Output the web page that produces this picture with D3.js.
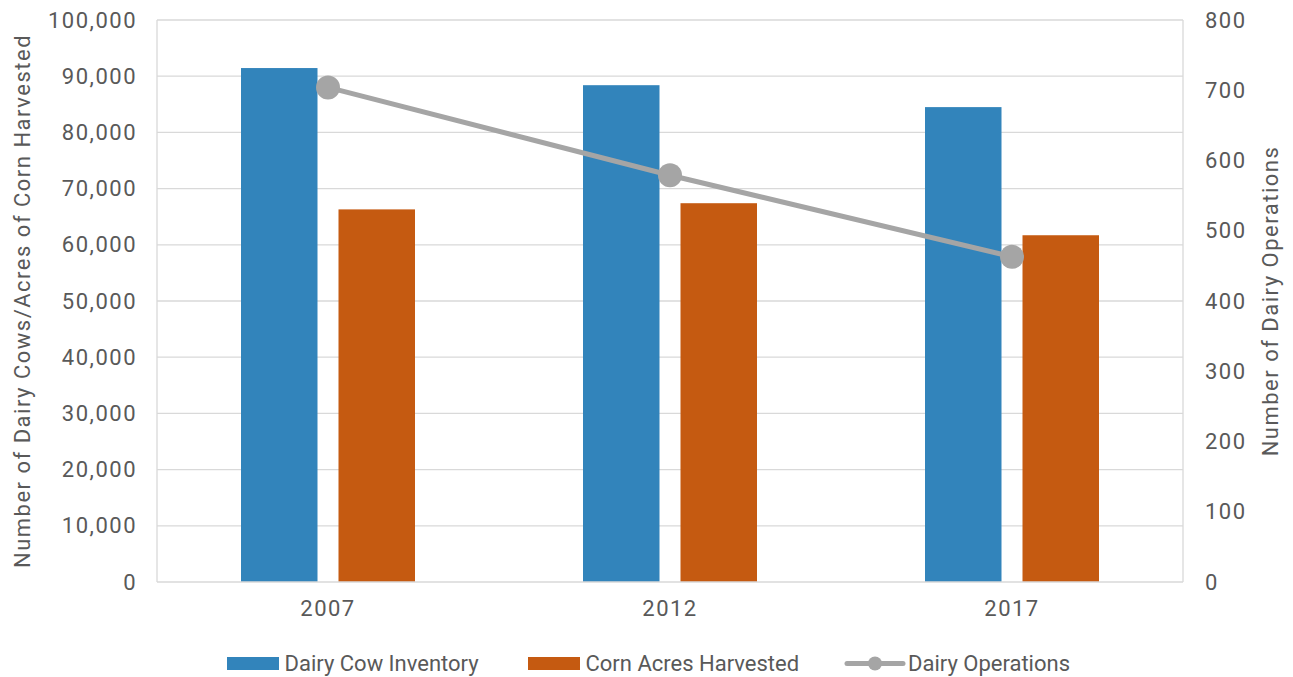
<!DOCTYPE html>
<html>
<head>
<meta charset="utf-8">
<script src="https://cdn.jsdelivr.net/npm/d3@7"></script>
<style>
  html, body { margin: 0; padding: 0; background: #fff; }
  svg { display: block; }
  text { font-family: "Roboto", "Liberation Sans", sans-serif; fill: #595959; }
</style>
</head>
<body>
<svg id="chart" width="1293" height="677"></svg>
<script>
const years = ["2007", "2012", "2017"];
const cowInventory = [91450, 88400, 84500];
const cornAcres = [66300, 67400, 61700];
const dairyOperations = [704, 579, 463];
const leftTicks = [0, 10000, 20000, 30000, 40000, 50000, 60000, 70000, 80000, 90000, 100000];
const rightTicks = [0, 100, 200, 300, 400, 500, 600, 700, 800];
const seriesNames = ["Dairy Cow Inventory", "Corn Acres Harvested", "Dairy Operations"];

const colors = { cow: "#3284BB", corn: "#C55A11", ops: "#A5A5A5", grid: "#D9D9D9" };
const fontSize = 22;
const spacing = 1.5;

const svg = d3.select("#chart");
const plot = { left: 157, right: 1183, top: 20, bottom: 582 };

const x = d3.scaleBand().domain(years).range([plot.left, plot.right]).padding(0);
const yL = d3.scaleLinear().domain([0, 100000]).range([plot.bottom, plot.top]);
const yR = d3.scaleLinear().domain([0, 800]).range([plot.bottom, plot.top]);

// gridlines
svg.append("g").selectAll("line").data(leftTicks.filter(d => d > 0)).join("line")
  .attr("x1", plot.left).attr("x2", plot.right)
  .attr("y1", d => yL(d)).attr("y2", d => yL(d))
  .attr("stroke", colors.grid).attr("stroke-width", 1.3);

// vertical axis lines
[plot.left, plot.right].forEach(px => {
  svg.append("line").attr("x1", px).attr("x2", px).attr("y1", plot.top).attr("y2", plot.bottom)
    .attr("stroke", colors.grid).attr("stroke-width", 1.3);
});

// bars
const barW = 76.5;
const offCow = -87, offCorn = 10.5;
const cx = d => x(d) + x.bandwidth() / 2;
svg.append("g").selectAll("rect").data(years).join("rect")
  .attr("x", (d) => cx(d) + offCow).attr("width", barW)
  .attr("y", (d, i) => yL(cowInventory[i]))
  .attr("height", (d, i) => plot.bottom - yL(cowInventory[i]))
  .attr("fill", colors.cow);
svg.append("g").selectAll("rect").data(years).join("rect")
  .attr("x", (d) => cx(d) + offCorn).attr("width", barW)
  .attr("y", (d, i) => yL(cornAcres[i]))
  .attr("height", (d, i) => plot.bottom - yL(cornAcres[i]))
  .attr("fill", colors.corn);

// bottom axis line
svg.append("line").attr("x1", plot.left).attr("x2", plot.right).attr("y1", plot.bottom).attr("y2", plot.bottom)
  .attr("stroke", colors.grid).attr("stroke-width", 1.6);

// line series
const line = d3.line().x((d, i) => cx(years[i])).y(d => yR(d));
svg.append("path").datum(dairyOperations).attr("d", line)
  .attr("fill", "none").attr("stroke", colors.ops).attr("stroke-width", 5).attr("stroke-linecap", "round");
svg.append("g").selectAll("circle").data(dairyOperations).join("circle")
  .attr("cx", (d, i) => cx(years[i])).attr("cy", d => yR(d)).attr("r", 12)
  .attr("fill", colors.ops);

// axes labels
const fmt = d3.format(",");
const styleTicks = g => g.selectAll("text").attr("font-size", fontSize).attr("font-family", null)
  .attr("fill", "#595959").attr("letter-spacing", spacing);

const axL = d3.axisLeft(yL).tickValues(leftTicks).tickFormat(fmt).tickSize(0).tickPadding(20);
const gL = svg.append("g").attr("transform", `translate(${plot.left},0)`).call(axL);
gL.select(".domain").remove();
styleTicks(gL);

const axR = d3.axisRight(yR).tickValues(rightTicks).tickFormat(d3.format("d")).tickSize(0).tickPadding(22);
const gR = svg.append("g").attr("transform", `translate(${plot.right},0)`).call(axR);
gR.select(".domain").remove();
styleTicks(gR);

const axB = d3.axisBottom(x).tickSize(0).tickPadding(18);
const gB = svg.append("g").attr("transform", `translate(0,${plot.bottom})`).call(axB);
gB.select(".domain").remove();
styleTicks(gB);

// axis titles
const midY = (plot.top + plot.bottom) / 2;
svg.append("text").attr("transform", `translate(30,${midY}) rotate(-90)`)
  .attr("text-anchor", "middle").attr("font-size", fontSize).attr("letter-spacing", spacing)
  .text("Number of Dairy Cows/Acres of Corn Harvested");
svg.append("text").attr("transform", `translate(1278,${midY}) rotate(-90)`)
  .attr("text-anchor", "middle").attr("font-size", fontSize).attr("letter-spacing", spacing)
  .text("Number of Dairy Operations");

// legend
const leg = svg.append("g");
const legY = 663.5;
const items = [
  { name: seriesNames[0], x: 227, tx: 284.5, type: "rect", color: colors.cow },
  { name: seriesNames[1], x: 528, tx: 585.5, type: "rect", color: colors.corn },
  { name: seriesNames[2], x: 847, tx: 908, type: "line", color: colors.ops }
];
items.forEach(it => {
  if (it.type === "rect") {
    leg.append("rect").attr("x", it.x).attr("y", legY - 6.5).attr("width", 52).attr("height", 13).attr("fill", it.color);
  } else {
    leg.append("line").attr("x1", it.x).attr("x2", it.x + 56).attr("y1", legY).attr("y2", legY)
      .attr("stroke", it.color).attr("stroke-width", 5).attr("stroke-linecap", "round");
    leg.append("circle").attr("cx", it.x + 28).attr("cy", legY).attr("r", 7).attr("fill", it.color);
  }
  leg.append("text").attr("x", it.tx).attr("y", legY).attr("dy", "0.35em")
    .attr("font-size", fontSize).text(it.name);
});
</script>
</body>
</html>
